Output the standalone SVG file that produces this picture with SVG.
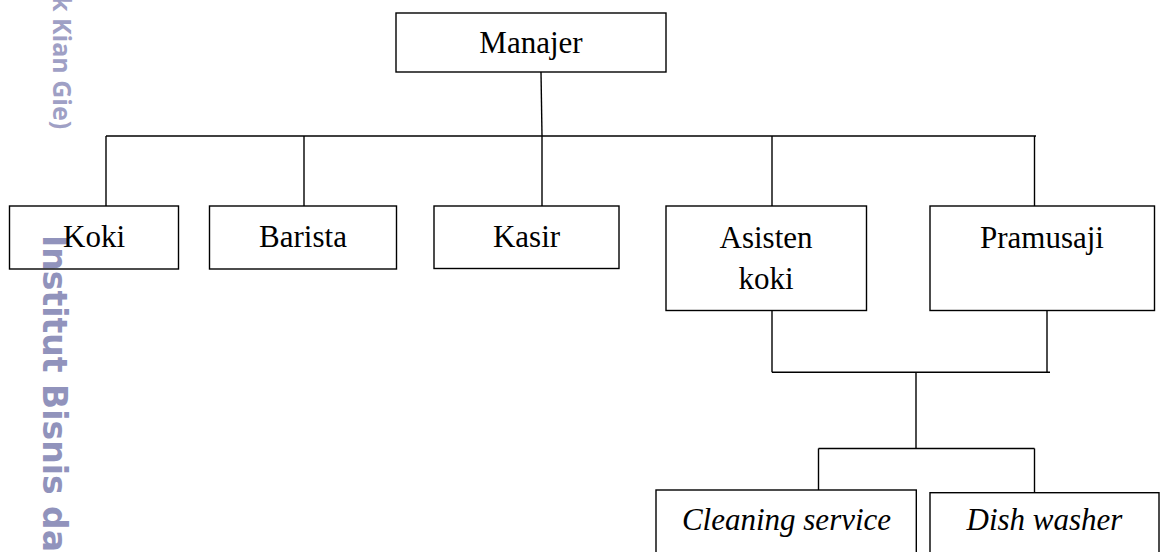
<svg xmlns="http://www.w3.org/2000/svg" width="1160" height="552" viewBox="0 0 1160 552">
<style>
.box{fill:none;stroke:#000;stroke-width:1.4}
.lbl{font-family:"Liberation Serif","Times New Roman",serif;font-size:31px;fill:#000;text-anchor:middle}
.it{font-style:italic}
.conn line{stroke:#000;stroke-width:1.4}
.wm1{font-family:"Open Sans","DejaVu Sans",sans-serif;font-weight:bold;font-size:25px;fill:#9fa0c5}
.wm2{font-family:"DejaVu Sans",sans-serif;font-weight:bold;font-size:33px;fill:#9193bc}
</style>
<rect width="1160" height="552" fill="#fff"/>
<g id="watermark">
<text class="wm1" transform="translate(53,-4) rotate(90)">k Kian Gie)</text>
<text class="wm2" transform="translate(43,235) rotate(90)">Institut Bisnis da</text>
</g>
<g id="connectors" class="conn">
<line x1="541" y1="72" x2="542" y2="136"/>
<line x1="106" y1="136" x2="1036" y2="136"/>
<line x1="106" y1="136" x2="106" y2="206"/>
<line x1="304" y1="136" x2="304" y2="206"/>
<line x1="542" y1="136" x2="542" y2="206"/>
<line x1="772" y1="136" x2="772" y2="206"/>
<line x1="1034.5" y1="136" x2="1034.5" y2="206"/>
<line x1="772" y1="310.5" x2="772" y2="372.3"/>
<line x1="1047" y1="310.5" x2="1047" y2="372.3"/>
<line x1="772" y1="372.3" x2="1050" y2="372.3"/>
<line x1="916" y1="372.3" x2="916" y2="448.5"/>
<line x1="818.5" y1="448.5" x2="1034.5" y2="448.5"/>
<line x1="818.5" y1="448.5" x2="818.5" y2="490"/>
<line x1="1034.5" y1="448.5" x2="1034.5" y2="492.7"/>
</g>
<g id="manajer">
<rect class="box" x="396" y="13" width="270" height="59"/>
<text class="lbl" x="531" y="53">Manajer</text>
</g>
<g id="koki">
<rect class="box" x="9.5" y="206" width="169" height="63"/>
<text class="lbl" x="94" y="247">Koki</text>
</g>
<g id="barista">
<rect class="box" x="209.5" y="206" width="187" height="63"/>
<text class="lbl" x="303" y="247">Barista</text>
</g>
<g id="kasir">
<rect class="box" x="434" y="206" width="185" height="62.5"/>
<text class="lbl" x="526.5" y="247">Kasir</text>
</g>
<g id="asisten-koki">
<rect class="box" x="666" y="206" width="200.5" height="104.5"/>
<text class="lbl" x="766" y="248">Asisten</text>
<text class="lbl" x="766" y="288.5">koki</text>
</g>
<g id="pramusaji">
<rect class="box" x="930" y="206" width="224.5" height="104.5"/>
<text class="lbl" x="1042" y="248">Pramusaji</text>
</g>
<g id="cleaning-service">
<rect class="box" x="656" y="490" width="260.3" height="110"/>
<text class="lbl it" x="786.5" y="530">Cleaning service</text>
</g>
<g id="dish-washer">
<rect class="box" x="930" y="492.7" width="229" height="110"/>
<text class="lbl it" x="1044.5" y="530">Dish washer</text>
</g>
</svg>
